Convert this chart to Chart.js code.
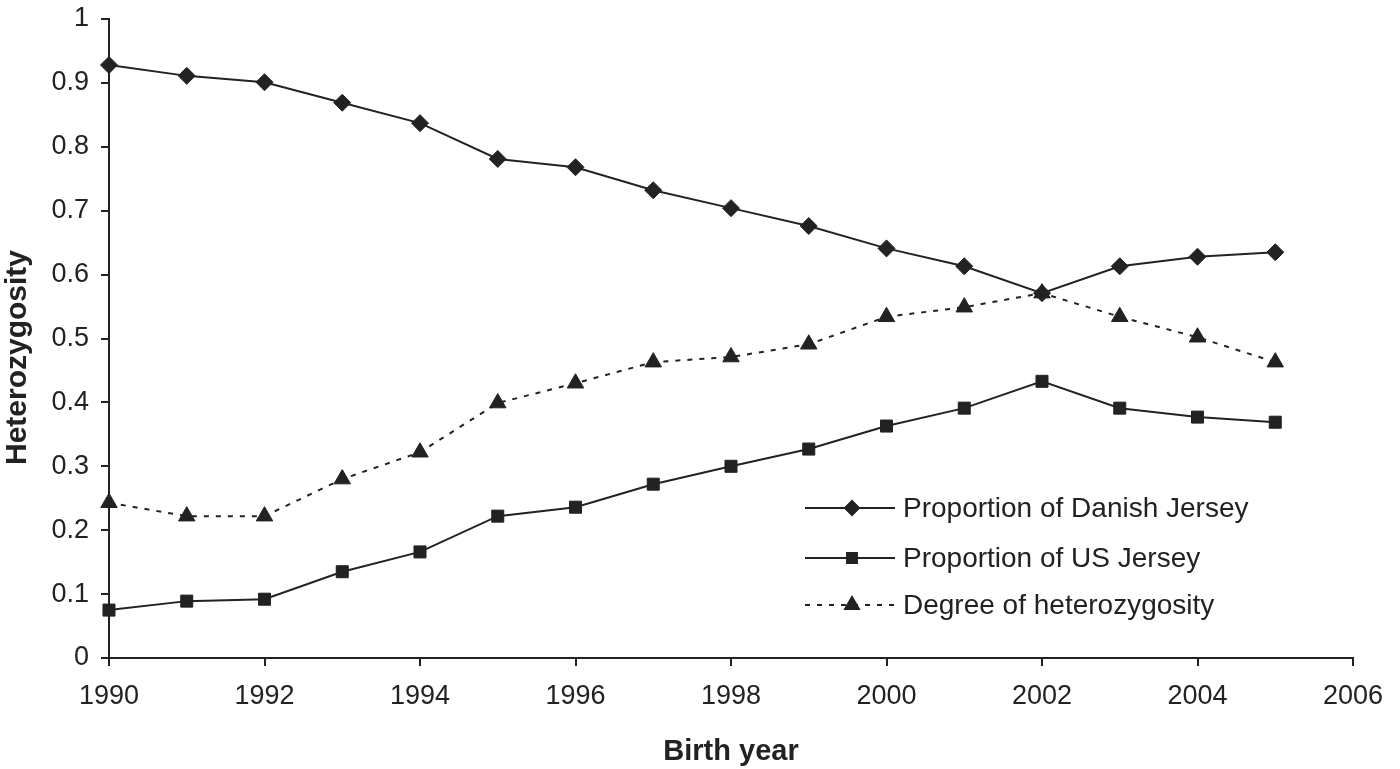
<!DOCTYPE html>
<html>
<head>
<meta charset="utf-8">
<script src="https://cdn.jsdelivr.net/npm/chart.js@4.4.0/dist/chart.umd.min.js"></script>
<style>
html,body{margin:0;padding:0;background:#fff;}
#wrap{width:1400px;height:769px;position:relative;}
</style>
</head>
<body>
<div id="wrap"><canvas id="c" width="1400" height="769"></canvas></div>
<script>
const years = [1990,1991,1992,1993,1994,1995,1996,1997,1998,1999,2000,2001,2002,2003,2004,2005];
const danish = [0.928,0.911,0.901,0.869,0.837,0.781,0.768,0.732,0.704,0.676,0.641,0.613,0.571,0.613,0.628,0.635];
const usJersey = [0.075,0.089,0.092,0.135,0.166,0.222,0.236,0.272,0.300,0.327,0.363,0.391,0.433,0.391,0.377,0.369];
const heterozygosity = [0.243,0.222,0.222,0.280,0.322,0.399,0.430,0.463,0.471,0.491,0.534,0.549,0.571,0.534,0.502,0.463];
const seriesNames = ["Proportion of Danish Jersey","Proportion of US Jersey","Degree of heterozygosity"];
const xTitle = "Birth year";
const yTitle = "Heterozygosity";

const ink = '#222';
const FONT = '"Liberation Sans", Arial, sans-serif';
const toXY = arr => years.map((y,i)=>({x:y,y:arr[i]}));

const styles = [
  {pointStyle:'rectRot', radius:8.5, dash:[]},
  {pointStyle:'rect', radius:8.5, dash:[]},
  {pointStyle:'triangle', radius:9.5, dash:[5,7]}
];

const legendPlugin = {
  id:'customLegend',
  afterDraw(chart){
    const ctx = chart.ctx;
    const ca = chart.chartArea;
    const x0 = ca.left + 696;
    const rowsY = [ca.top + 489, ca.top + 539, ca.top + 586];
    ctx.save();
    chart.data.datasets.forEach((ds,i)=>{
      const y = rowsY[i];
      const st = styles[i];
      ctx.strokeStyle = ink; ctx.lineWidth = 2;
      ctx.setLineDash(st.dash);
      ctx.beginPath(); ctx.moveTo(x0, y); ctx.lineTo(x0+90, y); ctx.stroke();
      ctx.setLineDash([]);
      ctx.fillStyle = ink;
      Chart.helpers.drawPoint(ctx, {pointStyle:st.pointStyle, radius:st.radius-1.5, rotation:0, borderWidth:1}, x0+47, y);
      ctx.fillStyle = ink; ctx.font = '28px ' + FONT;
      ctx.textBaseline = 'middle'; ctx.textAlign = 'left';
      ctx.fillText(ds.label, x0+98, y+1);
    });
    // y axis title
    ctx.save();
    ctx.translate(18, (ca.top + ca.bottom)/2 + 19);
    ctx.rotate(-Math.PI/2);
    ctx.font = 'bold 30px ' + FONT;
    ctx.textAlign = 'center'; ctx.textBaseline = 'middle';
    ctx.fillStyle = ink;
    ctx.fillText(yTitle, 0, 0);
    ctx.restore();
    ctx.restore();
  }
};

const datasets = [danish, usJersey, heterozygosity].map((arr,i)=>({
  label: seriesNames[i],
  data: toXY(arr),
  borderColor: ink,
  backgroundColor: ink,
  pointBackgroundColor: ink,
  pointBorderColor: ink,
  borderWidth: 2,
  borderDash: styles[i].dash,
  pointStyle: styles[i].pointStyle,
  pointRadius: styles[i].radius,
  pointBorderWidth: 1,
  tension: 0,
  fill: false,
  clip: false
}));

new Chart(document.getElementById('c'), {
  type: 'line',
  data: { datasets },
  plugins: [legendPlugin],
  options: {
    responsive: false,
    animation: false,
    devicePixelRatio: 1,
    layout: { padding: { top: 19, right: 47, bottom: 0, left: 0 } },
    plugins: { legend: { display: false }, tooltip: { enabled: false } },
    scales: {
      x: {
        type: 'linear', min: 1990, max: 2006,
        border: { color: ink, width: 2 },
        grid: { display: true, drawOnChartArea: false, color: ink, lineWidth: 2, tickLength: 8 },
        ticks: { stepSize: 2, color: ink, font: { family: FONT, size: 27 }, padding: 14, maxRotation: 0,
                 callback: v => String(v) },
        title: { display: true, text: xTitle, color: ink, font: { family: FONT, size: 29, weight: 'bold' }, padding: { top: 0, bottom: 0 } },
        afterFit: s => { s.height = 111; s.paddingLeft = 0; s.paddingRight = 0; }
      },
      y: {
        min: 0, max: 1,
        border: { color: ink, width: 2 },
        grid: { display: true, drawOnChartArea: false, color: ink, lineWidth: 2, tickLength: 8 },
        ticks: { stepSize: 0.1, color: ink, font: { family: FONT, size: 27 }, padding: 12,
                 callback: v => String(Math.round(v*10)/10) },
        title: { display: false, text: yTitle },
        afterFit: s => { s.width = 109; s.paddingTop = 0; s.paddingBottom = 0; }
      }
    }
  }
});
</script>
</body>
</html>
